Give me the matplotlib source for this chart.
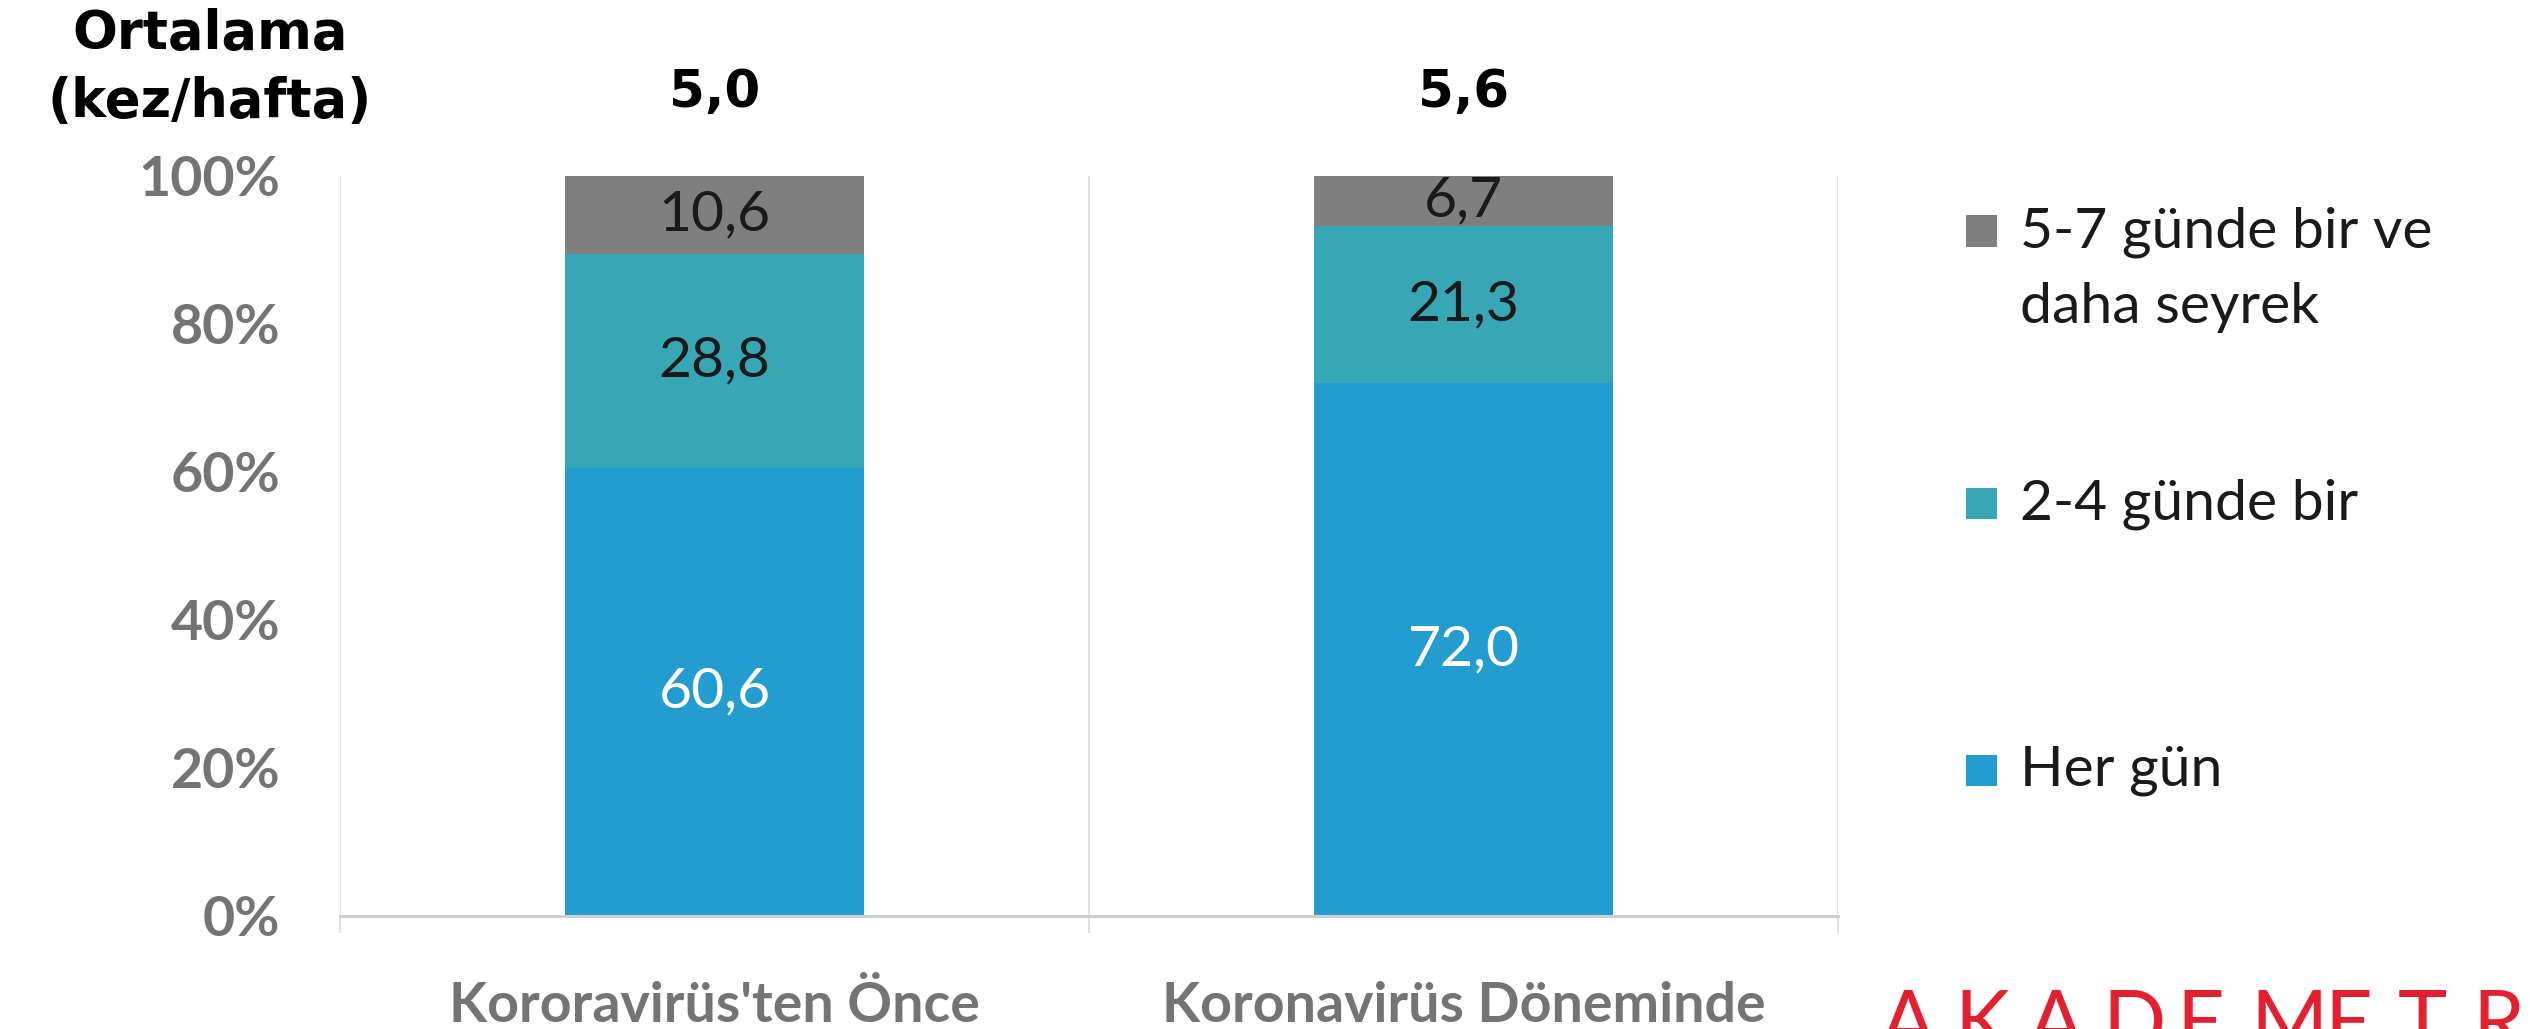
import matplotlib
matplotlib.use("Agg")
import matplotlib.pyplot as plt
from matplotlib.patches import Rectangle

# ---- data ----
categories = ["Kororavirüs'ten Önce", "Koronavirüs Döneminde"]
her_gun = [60.6, 72.0]
iki_dort = [28.8, 21.3]
bes_yedi = [10.6, 6.7]
averages = [5.0, 5.6]
series_names = ["Her gün", "2-4 günde bir", "5-7 günde bir ve\ndaha seyrek"]
yticks = [0, 20, 40, 60, 80, 100]
avg_title = "Ortalama\n(kez/hafta)"
logo = "AKADEMETRE"

colors = ["#239dcf", "#37a7b5", "#7f7f7f"]
label_colors = ["white", "#1a1a1a", "#1a1a1a"]

W, H = 2530, 1029
DPI = 100
FONT = ["Lato", "DejaVu Sans"]
BOLDFONT = ["DejaVu Sans"]
plt.rcParams["font.family"] = FONT

fig = plt.figure(figsize=(W / DPI, H / DPI), dpi=DPI)
ax = fig.add_axes([340 / W, 1 - 916 / H, (1838 - 340) / W, (916 - 176) / H])

x = list(range(len(categories)))
series = [her_gun, iki_dort, bes_yedi]
bottom = [0.0] * len(categories)
for vals, col, lcol, name in zip(series, colors, label_colors, series_names):
    ax.bar(x, vals, width=0.4, bottom=bottom, color=col, label=name,
           edgecolor="none", zorder=3)
    for xi, v, b in zip(x, vals, bottom):
        ax.text(xi, b + v / 2, f"{v:.1f}".replace(".", ","), ha="center",
                va="center", fontsize=41, color=lcol, zorder=4)
    bottom = [b + v for b, v in zip(bottom, vals)]

ax.set_xlim(-0.5, len(categories) - 0.5)
ax.set_ylim(0, 100)

# y axis
ax.set_yticks(yticks)
ax.set_yticklabels([f"{t}%" for t in yticks], fontsize=40, fontweight="bold",
                   color="#737573")
ax.tick_params(axis="y", length=0, pad=43)

# x axis
ax.set_xticks(x)
ax.set_xticklabels(categories, fontsize=40, fontweight="bold", color="#737573")
ax.tick_params(axis="x", which="major", length=0, pad=47)
ax.set_xticks([i - 0.5 for i in range(len(categories) + 1)], minor=True)
ax.tick_params(axis="x", which="minor", length=12, width=1.1, color="#d9d9d9",
               direction="out")
ax.grid(True, axis="x", which="minor", color="#d9d9d9", linewidth=1.1, zorder=0)
ax.grid(False, axis="x", which="major")

for s in ["top", "right", "left"]:
    ax.spines[s].set_visible(False)
ax.spines["bottom"].set_color("#cfcfcf")
ax.spines["bottom"].set_linewidth(2.2)
ax.spines["bottom"].set_zorder(5)

# averages on top
for xi, a in zip(x, averages):
    ax.annotate(f"{a:.1f}".replace(".", ","), xy=(xi, 100), xytext=(0, 60),
                textcoords="offset points", ha="center", va="center",
                fontsize=37, fontweight="bold", color="black",
                family=BOLDFONT, annotation_clip=False)

fig.text(210 / W, 1 - 68 / H, avg_title, ha="center", va="center",
         fontsize=38, fontweight="bold", color="black", linespacing=1.4,
         family=BOLDFONT)

# legend (manual, top to bottom: reversed series order)
leg_y = [231, 503, 770]
sq = 31
for name, col, yc in zip(series_names[::-1], colors[::-1], leg_y):
    fig.patches.append(Rectangle(((1966) / W, 1 - (yc + sq / 2) / H), sq / W, sq / H,
                                 transform=fig.transFigure, facecolor=col,
                                 edgecolor="none"))
    fig.text(2020 / W, 1 - (yc - 25) / H, name, ha="left", va="top",
             fontsize=41, color="#1a1a1a", linespacing=1.6)

# logo (cut at bottom edge, as in the reference)
for i, ch in enumerate(logo):
    fig.text((1880 + i * 74) / W, 1 - 989 / H, ch, ha="left", va="top",
             fontsize=60, fontweight="normal", color="#e3202f")

fig.savefig("out.png", dpi=DPI)
